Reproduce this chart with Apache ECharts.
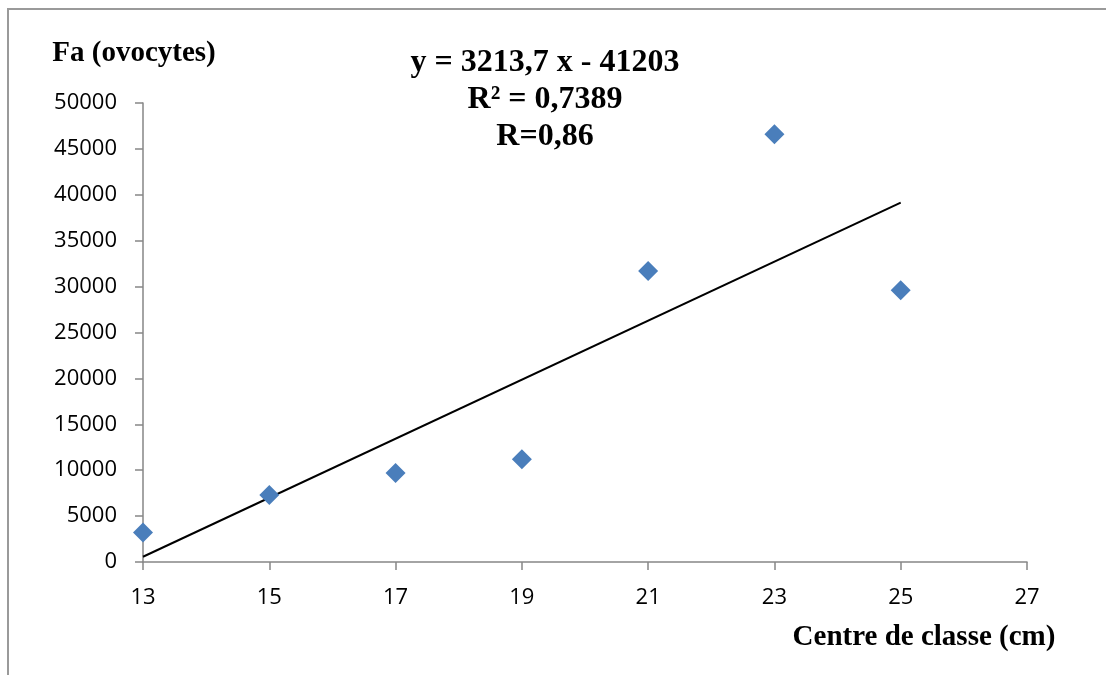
<!DOCTYPE html>
<html>
<head>
<meta charset="utf-8">
<title>Fa (ovocytes) en fonction du centre de classe</title>
<script src="https://cdn.jsdelivr.net/npm/echarts@6/dist/echarts.min.js"></script>
<style>
  html, body { margin: 0; padding: 0; background: #fff; }
  #chart { width: 1106px; height: 675px; }
</style>
</head>
<body>
<div id="chart"></div>
<script>
// Centre de classe (cm) and absolute fecundity (ovocytes)
const classCentres = [13, 15, 17, 19, 21, 23, 25];
const fecundity = [3200, 7300, 9700, 11200, 31700, 46600, 29600];

// Linear fit reported on the chart
const slope = 3213.7;
const intercept = -41203;
const rSquared = 0.7389;
const rValue = 0.86;

const xTicks = { min: 13, max: 27, interval: 2 };
const yTicks = { min: 0, max: 50000, interval: 5000 };

const fmt = (v, d) => v.toFixed(d).replace('.', ',');

const points = classCentres.map((x, i) => [x, fecundity[i]]);
const xFirst = classCentres[0];
const xLast = classCentres[classCentres.length - 1];
const trend = [
  [xFirst, slope * xFirst + intercept],
  [xLast, slope * xLast + intercept]
];

const eqText = 'y = ' + fmt(slope, 1) + ' x - ' + Math.abs(intercept) +
  '\nR\u00B2 = ' + fmt(rSquared, 4) + '\nR=' + fmt(rValue, 2);

const serif = '"Liberation Serif", "Times New Roman", serif';
const sans = '"Open Sans", "Liberation Sans", sans-serif';
const axisGrey = '#868686';

const chart = echarts.init(document.getElementById('chart'), null, { renderer: 'canvas' });

chart.setOption({
  animation: false,
  backgroundColor: '#ffffff',
  grid: { left: 143, right: 79, top: 103, bottom: 113, containLabel: false },
  graphic: [
    {
      type: 'rect',
      silent: true,
      shape: { x: 8, y: 9, width: 1200, height: 700 },
      style: { fill: 'none', stroke: '#9a9a9a', lineWidth: 2 }
    },
    {
      type: 'text',
      silent: true,
      x: 545,
      y: 44,
      style: {
        text: eqText,
        font: 'bold 32px ' + serif,
        fill: '#000',
        align: 'center',
        verticalAlign: 'top',
        lineHeight: 37
      }
    },
    {
      // x-axis title, placed below the tick labels at the right end
      type: 'text',
      silent: true,
      x: 924,
      y: 638,
      style: {
        text: 'Centre de classe (cm)',
        font: 'bold 29px ' + serif,
        fill: '#000',
        align: 'center',
        verticalAlign: 'middle'
      }
    }
  ],
  xAxis: {
    type: 'value',
    min: xTicks.min,
    max: xTicks.max,
    interval: xTicks.interval,
    axisLine: { show: true, onZero: false, lineStyle: { color: axisGrey, width: 1.5 } },
    axisTick: { show: true, inside: false, length: 8, lineStyle: { color: axisGrey, width: 1.5 } },
    axisLabel: { fontFamily: sans, fontSize: 22, color: '#000', margin: 25 },
    splitLine: { show: false }
  },
  yAxis: {
    type: 'value',
    min: yTicks.min,
    max: yTicks.max,
    interval: yTicks.interval,
    name: 'Fa (ovocytes)',
    nameLocation: 'end',
    nameGap: 35,
    nameTextStyle: {
      fontFamily: serif,
      fontWeight: 'bold',
      fontSize: 29,
      color: '#000',
      align: 'center',
      padding: [0, 18, 0, 0]
    },
    axisLine: { show: true, lineStyle: { color: axisGrey, width: 1.5 } },
    axisTick: { show: true, inside: false, length: 8, lineStyle: { color: axisGrey, width: 1.5 } },
    axisLabel: {
      fontFamily: sans,
      fontSize: 22,
      color: '#000',
      margin: 26,
      formatter: (v) => String(v)
    },
    splitLine: { show: false }
  },
  series: [
    {
      name: 'Tendance linéaire',
      type: 'line',
      data: trend,
      symbol: 'none',
      silent: true,
      lineStyle: { color: '#000', width: 2 },
      z: 2
    },
    {
      name: 'Fa',
      type: 'scatter',
      data: points,
      symbol: 'diamond',
      symbolSize: 20,
      itemStyle: { color: '#4a7ebb', opacity: 1 },
      z: 3
    }
  ]
});
</script>
</body>
</html>
